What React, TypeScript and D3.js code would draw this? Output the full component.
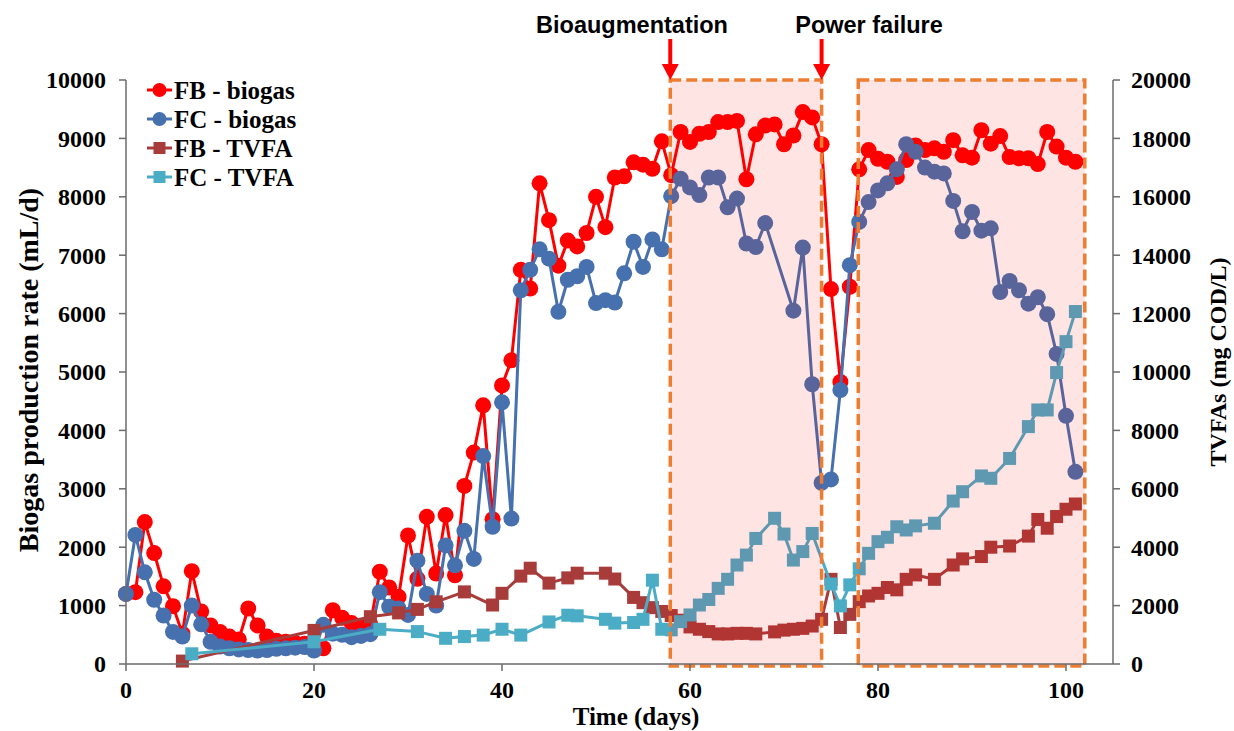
import React from "react";
import * as d3 from "d3";

// ---------- DATA ----------
const fbBiogasDays = d3.range(0, 102);
const fbBiogas = [
  1200, 1230, 2430, 1900, 1330, 990, 520, 1590, 900, 660,
  550, 470, 420, 950, 660, 470, 400, 380, 360, 345,
  320, 270, 920, 790, 700, 640, 680, 1580, 1310, 1150,
  2200, 1460, 2520, 1550, 2550, 1520, 3050, 3620, 4430, 2480,
  4770, 5200, 6750, 6430, 8230, 7600, 6820, 7250, 7150, 7380,
  8000, 7480, 8330, 8350, 8590, 8550, 8480, 8950, 8370, 9110,
  8940, 9080, 9110, 9280, 9280, 9300, 8300, 9070, 9220, 9240,
  8900, 9050, 9450, 9360, 8900, 6420, 4830, 6460, 8470, 8800,
  8650, 8600, 8340, 8630, 8880, 8800, 8830, 8770, 8970, 8710,
  8670, 9140, 8910, 9040, 8680, 8660, 8660, 8560, 9110, 8860,
  8670, 8600,
];

const fcBiogasDays = [
  0, 1, 2, 3, 4, 5, 6, 7, 8, 9,
  10, 11, 12, 13, 14, 15, 16, 17, 18, 19,
  20, 21, 22, 23, 24, 25, 26, 27, 28, 29,
  30, 31, 32, 33, 34, 35, 36, 37, 38, 39,
  40, 41, 42, 43, 44, 45, 46, 47, 48, 49,
  50, 51, 52, 53, 54, 55, 56, 57, 58, 59,
  60, 61, 62, 63, 64, 65, 66, 67, 68, 71,
  72, 73, 74, 75, 76, 77, 78, 79, 80, 81,
  82, 83, 84, 85, 86, 87, 88, 89, 90, 91,
  92, 93, 94, 95, 96, 97, 98, 99, 100, 101,
];
const fcBiogas = [
  1200, 2210, 1570, 1100, 830, 550, 470, 1000, 680, 380,
  300, 270, 250, 240, 230, 240, 260, 270, 280, 290,
  230, 670, 520, 500, 460, 480, 510, 1230, 980, 950,
  840, 1770, 1200, 1000, 2030, 1690, 2280, 1800, 3560, 2350,
  4480, 2490, 6400, 6750, 7100, 6940, 6030, 6580, 6640, 6800,
  6180, 6230, 6190, 6690, 7230, 6800, 7270, 7100, 8010, 8310,
  8160, 8030, 8330, 8330, 7820, 7970, 7200, 7140, 7550, 6050,
  7130, 4790, 3100, 3160, 4690, 6830, 7570, 7910, 8110, 8230,
  8470, 8900, 8770, 8500, 8430, 8400, 7930, 7410, 7740, 7420,
  7460, 6370, 6560, 6400, 6170, 6280, 5990, 5310, 4250, 3290,
];

const fbTvfaDays = [
  6, 20, 26, 29, 31, 33, 36, 39, 40, 42, 43, 45, 47, 48, 51, 52, 54, 55, 56, 57,
  58, 59, 60, 61, 62, 63, 64, 65, 66, 67, 69, 70, 71, 72, 73, 74, 75, 76, 77, 78,
  79, 80, 81, 82, 83, 84, 86, 88, 89, 91, 92, 94, 96, 97, 98, 99, 100, 101,
];
const fbTvfa = [
  100, 1150, 1620, 1750, 1870, 2130, 2470, 2020, 2420, 3010, 3280, 2770, 2950, 3110, 3110, 2910, 2280, 2100, 1930, 1800,
  1660, 1500, 1270, 1190, 1110, 1030, 1030, 1050, 1050, 1030, 1100, 1160, 1190, 1220, 1300, 1530, 2900, 1250, 1700, 2135,
  2330, 2420, 2620, 2540, 2900, 3050, 2900, 3390, 3600, 3680, 4000, 4040, 4380, 4950, 4650, 5050, 5300, 5480,
];

const fcTvfaDays = [
  7, 20, 27, 31, 34, 36, 38, 40, 42, 45, 47, 48, 51, 52, 54, 55, 56, 57, 58, 59,
  60, 61, 62, 63, 64, 65, 66, 67, 69, 70, 71, 72, 73, 75, 76, 77, 78, 79, 80, 81,
  82, 83, 84, 86, 88, 89, 91, 92, 94, 96, 97, 98, 99, 100, 101,
];
const fcTvfa = [
  350, 760, 1190, 1110, 880, 940, 990, 1190, 990, 1440, 1670, 1650, 1530, 1400, 1420, 1530, 2870, 1190, 1170, 1450,
  1680, 2020, 2210, 2590, 2900, 3390, 3730, 4300, 4990, 4450, 3560, 3850, 4470, 2740, 1990, 2710, 3260, 3790, 4190, 4340,
  4700, 4590, 4730, 4820, 5580, 5900, 6440, 6360, 7040, 8130, 8700, 8700, 9980, 11040, 12070,
];

const seriesNames = ["FB - biogas", "FC - biogas", "FB - TVFA", "FC - TVFA"];
const xTicks = [0, 20, 40, 60, 80, 100];
const yLeftTicks = d3.range(0, 10001, 1000);
const yRightTicks = d3.range(0, 20001, 2000);
const eventRegions = [
  [57.9, 74],
  [77.9, 102],
];
const eventLabels = ["Bioaugmentation", "Power failure"];
const eventDays = [57.9, 74];

// ---------- STYLE ----------
const W = 1234;
const H = 731;
const left = 126;
const right = 1113;
const top = 80;
const bottom = 664;
const serif = "'Liberation Serif', 'Times New Roman', serif";
const sans = "'Liberation Sans', Arial, sans-serif";
const colors = ["#FF0000", "#4670AE", "#A83C3A", "#4BACC6"];
const axisColor = "#6b6b6b";

export default function App() {
  const x = d3.scaleLinear().domain([0, 105]).range([left, right]);
  const yL = d3.scaleLinear().domain([0, 10000]).range([bottom, top]);
  const yR = d3.scaleLinear().domain([0, 20000]).range([bottom, top]);

  const series = [
    { days: fbBiogasDays, vals: fbBiogas, y: yL, shape: "circle" },
    { days: fcBiogasDays, vals: fcBiogas, y: yL, shape: "circle" },
    { days: fbTvfaDays, vals: fbTvfa, y: yR, shape: "square" },
    { days: fcTvfaDays, vals: fcTvfa, y: yR, shape: "square" },
  ];

  const r = 8;
  const sq = 13;

  return (
    <svg
      width={W}
      height={H}
      style={{ position: "absolute", left: 0, top: 0, background: "#fff" }}
    >
      <rect x={0} y={0} width={W} height={H} fill="#fff" />
      {/* series */}
      {series.map((s, i) => {
        const pts = s.days.map((d, k) => [x(d), s.y(s.vals[k])] as [number, number]);
        const path = d3.line()(pts) || "";
        return (
          <g key={i}>
            <path d={path} fill="none" stroke={colors[i]} strokeWidth={3} strokeLinejoin="round" />
            {pts.map((p, k) =>
              s.shape === "circle" ? (
                <circle key={k} cx={p[0]} cy={p[1]} r={r} fill={colors[i]} />
              ) : (
                <rect key={k} x={p[0] - sq / 2} y={p[1] - sq / 2} width={sq} height={sq} fill={colors[i]} />
              )
            )}
          </g>
        );
      })}

      {/* event regions (overlay) */}
      {eventRegions.map((reg, i) => (
        <rect
          key={i}
          x={x(reg[0])}
          y={yL(10000)}
          width={x(reg[1]) - x(reg[0])}
          height={yL(0) - yL(10000) + 2}
          fill="rgba(255,0,0,0.105)"
          stroke="#ED7D31"
          strokeWidth={3.5}
          strokeDasharray="11 5"
        />
      ))}

      {/* arrows + labels */}
      {eventDays.map((d, i) => {
        const ax = x(d);
        return (
          <g key={i}>
            <line x1={ax} x2={ax} y1={39} y2={66} stroke="#FF0000" strokeWidth={4} />
            <path d={`M${ax - 8.5},${64} L${ax + 8.5},${64} L${ax},${80} Z`} fill="#FF0000" />
          </g>
        );
      })}
      <text x={632} y={33} textAnchor="middle" fontFamily={sans} fontWeight="bold" fontSize={23.5} fill="#000">
        {eventLabels[0]}
      </text>
      <text x={869} y={33} textAnchor="middle" fontFamily={sans} fontWeight="bold" fontSize={23.5} fill="#000">
        {eventLabels[1]}
      </text>

      {/* axes */}
      <line x1={left} x2={left} y1={top} y2={bottom} stroke={axisColor} strokeWidth={1.5} />
      <line x1={right} x2={right} y1={top} y2={bottom} stroke={axisColor} strokeWidth={1.5} />
      <line x1={left} x2={right} y1={bottom} y2={bottom} stroke={axisColor} strokeWidth={1.5} />

      {yLeftTicks.map((t) => (
        <g key={"l" + t}>
          <line x1={left - 7} x2={left} y1={yL(t)} y2={yL(t)} stroke={axisColor} strokeWidth={1.5} />
          <text
            x={106}
            y={yL(t)}
            dy="0.35em"
            textAnchor="end"
            fontFamily={serif}
            fontWeight="bold"
            fontSize={24}
          >
            {t}
          </text>
        </g>
      ))}
      {yRightTicks.map((t) => (
        <g key={"r" + t}>
          <line x1={right} x2={right + 7} y1={yR(t)} y2={yR(t)} stroke={axisColor} strokeWidth={1.5} />
          <text
            x={1131}
            y={yR(t)}
            dy="0.35em"
            textAnchor="start"
            fontFamily={serif}
            fontWeight="bold"
            fontSize={24}
          >
            {t}
          </text>
        </g>
      ))}
      {xTicks.map((t) => (
        <g key={"x" + t}>
          <line x1={x(t)} x2={x(t)} y1={bottom} y2={bottom + 7} stroke={axisColor} strokeWidth={1.5} />
          <text
            x={x(t)}
            y={698}
            textAnchor="middle"
            fontFamily={serif}
            fontWeight="bold"
            fontSize={24}
          >
            {t}
          </text>
        </g>
      ))}

      {/* axis titles */}
      <text
        transform={`translate(38,370) rotate(-90)`}
        textAnchor="middle"
        fontFamily={serif}
        fontWeight="bold"
        fontSize={28}
      >
        Biogas production rate (mL/d)
      </text>
      <text
        transform={`translate(1226,362) rotate(-90)`}
        textAnchor="middle"
        fontFamily={serif}
        fontWeight="bold"
        fontSize={24}
      >
        TVFAs (mg COD/L)
      </text>
      <text x={636} y={725} textAnchor="middle" fontFamily={serif} fontWeight="bold" fontSize={25}>
        Time (days)
      </text>

      {/* legend */}
      {seriesNames.map((name, i) => {
        const ly = 90 + i * 29;
        return (
          <g key={name}>
            <line x1={147} x2={172} y1={ly} y2={ly} stroke={colors[i]} strokeWidth={3} />
            {i < 2 ? (
              <circle cx={159.5} cy={ly} r={7} fill={colors[i]} />
            ) : (
              <rect x={159.5 - 6} y={ly - 6} width={12} height={12} fill={colors[i]} />
            )}
            <text x={174} y={ly} dy="0.35em" fontFamily={serif} fontWeight="bold" fontSize={25}>
              {name}
            </text>
          </g>
        );
      })}
    </svg>
  );
}
